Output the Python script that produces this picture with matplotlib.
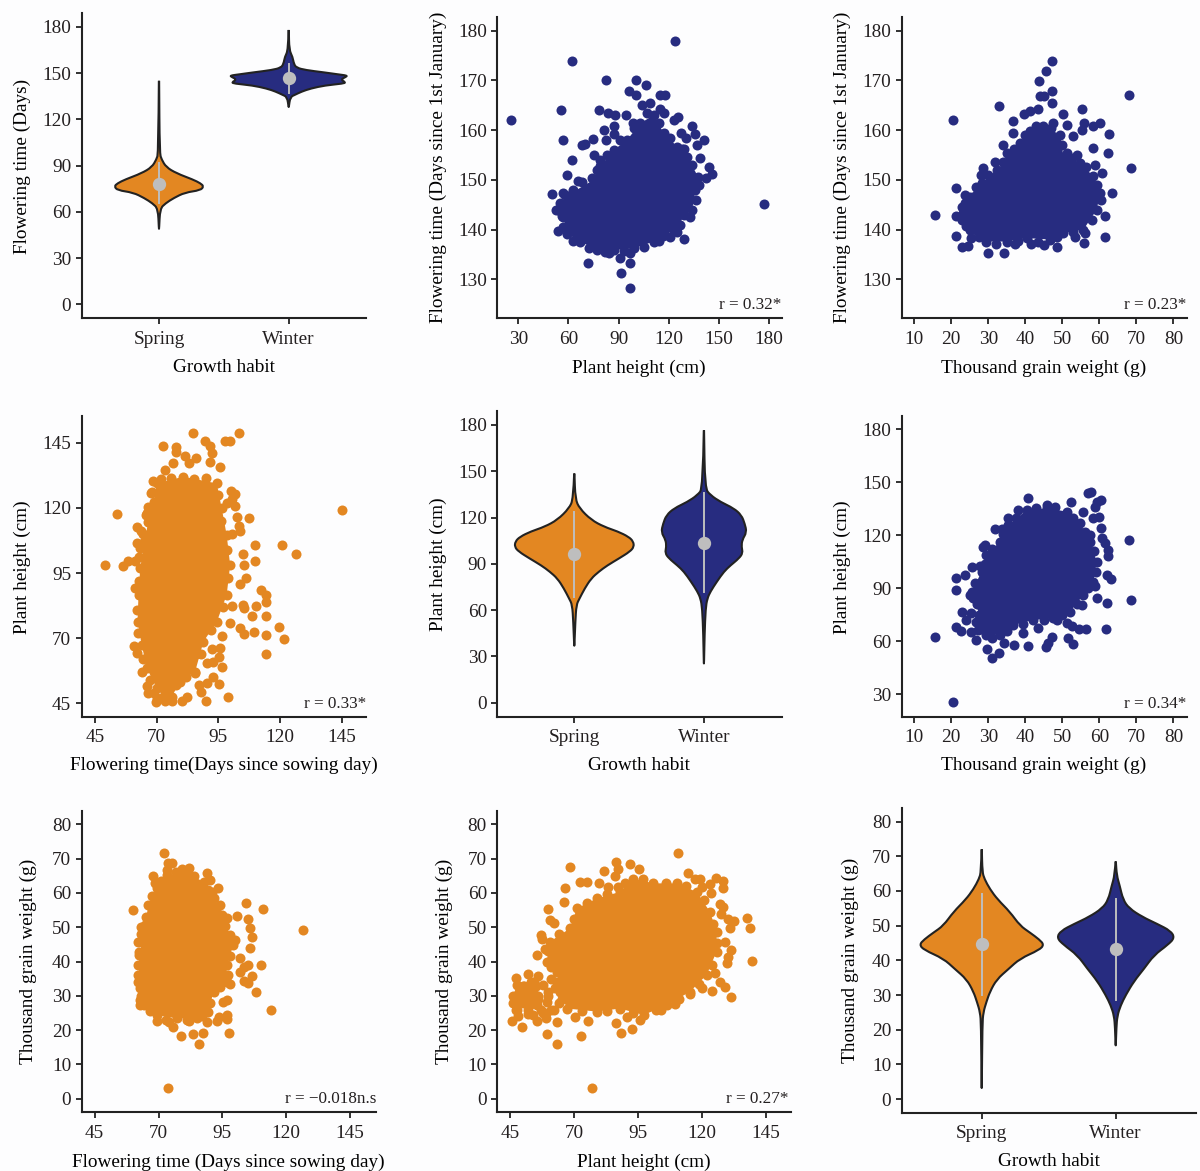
import matplotlib
matplotlib.use('Agg')
import matplotlib.pyplot as plt
from matplotlib.patches import PathPatch
from matplotlib.path import Path

plt.rcParams['font.family'] = ['Liberation Serif', 'DejaVu Serif']
plt.rcParams['text.color'] = '#231f20'

ORANGE = '#e38722'
NAVY = '#272c80'
DARK = '#222222'
GREY = '#bebebe'
BG = '#fdfdfe'
W, H = 1200, 1171

habits = ['Spring', 'Winter']

# violin outlines: value and half width (in category units)
ft_spring_y = [145, 98, 94, 89, 85, 81, 78.5, 76.5, 74, 72.5, 69, 65.5, 62, 49]
ft_spring_w = [.001, .005, .02, .055, .135, .26, .32, .345, .32, .2, .115, .05, .008, .001]
ft_winter_y = [178, 165, 160.5, 156, 153.5, 152, 150.5, 149.2, 148.4, 147.5, 145.8, 144, 143.2, 142, 140, 138, 136, 134.5, 128]
ft_winter_w = [.001, .004, .03, .04, .06, .13, .27, .38, .452, .44, .40, .44, .42, .28, .17, .1, .05, .012, .001]
ft_medians = [78.2, 146.7]
ft_low = [65.5, 136.8]
ft_high = [91.4, 156.2]

ph_spring_y = [148.5, 132, 126, 118.5, 114, 111, 107.5, 104.5, 101, 98, 93.5, 89, 85, 80.5, 74, 67.5, 63.5, 52.5, 37]
ph_spring_w = [.001, .008, .04, .13, .23, .335, .42, .455, .46, .43, .345, .255, .19, .13, .08, .04, .016, .008, .001]
ph_winter_y = [176.5, 139, 134.5, 130, 126, 121.5, 116, 110.5, 105.5, 101, 97, 93.5, 89, 85, 78.5, 72, 67.5, 61, 44, 25.5]
ph_winter_w = [.001, .008, .05, .13, .23, .29, .315, .33, .295, .29, .30, .27, .205, .155, .10, .05, .026, .013, .005, .001]
ph_medians = [96.1, 103.7]
ph_low = [68.7, 71.9]
ph_high = [123.8, 135.6]

tgw_spring_y = [72, 65.5, 63.5, 60.5, 57.5, 54, 50, 48, 46, 44.5, 43, 40.5, 37.5, 34.5, 31, 28, 25, 21.5, 3.2]
tgw_spring_w = [.001, .005, .02, .062, .12, .21, .286, .36, .43, .465, .43, .286, .2, .112, .062, .035, .012, .005, .001]
tgw_winter_y = [68.5, 64.5, 61.5, 57.5, 55, 52.5, 50.5, 48.5, 46.5, 44.5, 41.5, 37.5, 34, 30, 27, 24, 20.5, 15.5]
tgw_winter_w = [.001, .008, .03, .055, .1, .2, .31, .41, .44, .39, .286, .21, .137, .075, .037, .012, .005, .001]
tgw_medians = [44.6, 43.2]
tgw_low = [30.1, 28.5]
tgw_high = [59.2, 57.7]

# scatter panels: core_* traces the solid dense cloud, edge_* the dots on its rim,
# pts_* are the separate dots
# plant height vs flowering time, winter
a_core_x = [55, 63, 75, 79, 87, 95, 103, 111, 117, 125, 131, 137.6, 136, 134, 129, 125, 117, 111, 99, 87, 77, 67, 59, 57]
a_core_y = [145.3, 147.6, 150, 152.7, 156, 158, 161.4, 163, 159.4, 156.7, 154.7, 150.6, 148, 144, 143, 139.6, 139.2, 137.6, 136.2, 135.9, 135.9, 137.6, 139.2, 142.6]
a_edge_x = [58, 68, 77, 83, 91, 99, 107, 114, 121, 128, 134, 138, 136.5, 133, 127, 121, 114, 105, 93, 82, 72, 63, 56.5, 54]
a_edge_y = [147, 149.5, 152, 155, 158, 160.5, 163.5, 161.5, 158.5, 156.2, 153, 149, 146, 142.5, 141, 138.5, 137.8, 136.6, 135.7, 135.5, 136.2, 137.8, 140.5, 144]
a_pts_x = [25.4, 62.4, 123.6, 176.8, 82.6, 100.4, 106.6, 96, 100.6, 115, 117.6, 55.4, 78, 83.6, 87.8, 94.6, 98.4, 87.4, 81.4, 87.4, 82.6, 56.6, 74.4, 68, 70, 62.4, 59, 65.4, 50.4, 57, 52.4, 56, 53.6, 71.4, 84, 90.6, 96.6, 96.6, 91.6, 96.6, 129, 116.6, 123, 134, 135.8, 141, 137, 129, 139, 144, 146, 142, 125.8, 123.4, 115, 117, 104, 108.6, 127.6, 130.6, 75, 79, 74.2, 63]
a_pts_y = [162, 174, 178, 145.2, 170, 170, 169, 167.8, 167, 167, 167, 164, 164, 163.4, 163, 163, 161.4, 160.8, 160, 159.2, 158, 158, 158.2, 157, 157.2, 154, 151, 149.7, 147.2, 147.3, 144, 142.8, 139.7, 133.3, 135.2, 134.2, 135.2, 133.2, 131.2, 128.2, 138.2, 138.8, 140, 160.8, 159.2, 158, 157, 156.3, 154.4, 152.6, 151.2, 150.3, 162.6, 162, 164.3, 163.4, 165, 165.5, 159.4, 158.4, 155, 154, 150.4, 148]

# thousand grain weight vs flowering time, winter
b_core_x = [23.2, 23.7, 26.4, 28.2, 32.3, 35.9, 38.6, 41.3, 44.9, 49.4, 50.3, 54.8, 58.4, 60.2, 59.3, 55.7, 50.3, 46.7, 40.4, 35, 29.5, 26.8, 24.1]
b_core_y = [143.3, 145.3, 146.7, 149.4, 152, 154.7, 157.4, 159.8, 160.8, 159.1, 154.7, 153.4, 150.7, 147.4, 144, 140, 139.3, 138, 138.3, 137.6, 137.6, 140, 140.7]
b_edge_x = [23, 25, 27, 30, 34, 37, 40, 43, 47, 50, 52.5, 56.5, 59.5, 60.5, 58, 53, 48.5, 43.5, 38, 32, 27.5, 25, 23]
b_edge_y = [144.5, 146.6, 148.3, 151, 153.6, 156.2, 159, 160.8, 160.5, 157, 154.5, 152.5, 149, 146, 142, 139.5, 138.5, 137.6, 137.7, 137.2, 138.5, 140, 142]
b_pts_x = [15.6, 20.4, 21.2, 21.3, 23, 24.4, 23.8, 26.8, 30, 34.2, 33, 47.3, 45.7, 43.6, 47.3, 44.1, 45, 47.3, 68.1, 68.5, 55.2, 50.3, 43.5, 41.3, 39.6, 36.8, 60.2, 58.4, 55.9, 55.2, 62.5, 58.2, 62.4, 34, 35.1, 31.8, 28.6, 28, 63.3, 61.5, 61.5, 56.1, 55.9, 53.4, 48.6, 45, 41.4, 37.2, 25.2, 21.4, 58.8, 60.6, 53.9, 51.2, 53, 36.8, 47.5, 51.2]
b_pts_y = [142.9, 162, 148.4, 138.8, 136.4, 136.8, 147, 148.6, 135.2, 135.3, 164.9, 174, 171.9, 169.9, 167.9, 166.8, 166.9, 165.5, 167.1, 152.3, 164.2, 163.3, 164.2, 163.8, 163.3, 161.8, 161.4, 160.8, 161.4, 160, 159.2, 156.4, 155.4, 157.1, 155.4, 153.6, 152.4, 151, 147.4, 142.7, 138.6, 139.3, 137.3, 138.6, 136.6, 137, 137.1, 137.2, 138.3, 142.8, 153, 151.4, 155, 155.4, 158.8, 159.4, 161.4, 161.1]

# flowering time vs plant height, spring
c_core_x = [62.7, 63.4, 65, 66.7, 68.8, 70.1, 80.9, 94.4, 96.4, 98.4, 99.8, 98.4, 94.4, 89, 85.6, 79.5, 76.2, 72.8, 70.1, 66.1, 64, 62.3]
c_core_y = [86.6, 96.8, 107, 114.7, 122.4, 129.4, 132, 129.4, 119.8, 109.6, 98.1, 86.6, 76.3, 68.7, 57.1, 53.3, 47.6, 47.6, 50.8, 58.4, 67.4, 76.3]
c_edge_x = [63, 63, 64.5, 66, 68, 72, 76, 85, 90, 95, 96, 98.5, 99, 97, 92, 88, 82, 78, 74, 70, 67.5, 64.5, 62.5, 62, 86, 84, 82]
c_edge_y = [92, 101, 110, 118, 126, 131, 131.5, 131, 131.5, 125, 115, 104, 93, 82, 73, 64, 60, 52, 46.5, 47, 54, 62, 72, 81, 64, 62, 55]
c_pts_x = [49, 53.9, 56.3, 58.6, 61.3, 62.1, 63.8, 62.1, 63.4, 61.1, 65.6, 66.7, 68.5, 67.7, 72.7, 77.9, 77.8, 76.8, 73.5, 81.7, 83, 86, 84.7, 89.8, 91.7, 92.6, 91.7, 95.5, 97.6, 99.9, 103.3, 100.2, 101.8, 100.5, 98.7, 101.8, 102.5, 107.6, 103.2, 103.6, 100.7, 109.9, 120.8, 126.5, 144.9, 105.2, 105.6, 109.9, 106.4, 103.8, 112.3, 114.4, 114.4, 105.2, 105.6, 110.3, 100.7, 108.8, 114.2, 119.4, 103.8, 105.6, 109.5, 114.2, 121.4, 114.2, 96.7, 99.8, 95.7, 92.4, 95.3, 96.4, 92.8, 90.6, 95.1, 99, 89.9, 87.2, 88, 82.2, 80.2, 69.7, 73.5, 76.2, 66.7, 66.1, 68.8, 60.7, 62, 64, 93, 90.3, 85.6]
c_pts_y = [98.2, 117.5, 97.6, 99.7, 99.7, 112.8, 111.2, 106.4, 104.5, 89.2, 117.2, 120.4, 130.4, 125.6, 143.6, 143.5, 141.5, 137.1, 134.5, 139.9, 137.3, 139, 148.6, 145.8, 143.7, 140.9, 137.7, 135.8, 145.8, 145.8, 148.6, 126.5, 125.3, 123.6, 121.7, 120.8, 116.6, 116.2, 113.2, 111.1, 109.8, 105.9, 105.9, 102.3, 119.2, 102.2, 98.1, 99.5, 93.2, 90.7, 88.5, 86.6, 83.7, 82.7, 81.4, 82.3, 82.3, 78.5, 78.5, 74.4, 73.8, 71.6, 72.5, 71.2, 69.8, 63.9, 70.8, 75.7, 66.1, 65.8, 62.9, 59.1, 55.2, 52.7, 52.4, 47.3, 45.9, 52, 49.5, 47.5, 46, 45.4, 46, 46, 48.8, 51.8, 48.8, 67.1, 64.2, 57.1, 61, 60.3, 56.5]

# thousand grain weight vs plant height, winter
d_core_x = [25.5, 28.2, 29.5, 33.2, 35.4, 40.4, 45.8, 51.2, 54.8, 57.5, 59.3, 58.4, 55.7, 52.1, 47.6, 42.2, 36.8, 33.2, 29.5, 26.8, 28.2, 25.9]
d_core_y = [88.1, 99.4, 108.9, 116.4, 125.8, 134.3, 135.3, 133.4, 126.8, 116.4, 105.1, 93.8, 86.2, 76.8, 73, 72.1, 69.2, 63.6, 63.6, 71.1, 78.7, 84.3]
d_edge_x = [26.5, 29, 31, 34, 37.5, 43, 48, 53, 56, 58.5, 59, 57, 54, 50, 45, 39.5, 35, 31, 28, 27.5, 27, 25]
d_edge_y = [93, 104, 112, 121, 130, 135.5, 136, 130, 122, 111, 99, 90, 81, 75, 72, 70, 66, 62, 67, 75, 81, 86]
d_pts_x = [20.4, 15.6, 21.2, 21.2, 23.7, 21.4, 22.5, 23, 24, 25.2, 25.2, 26.8, 25.5, 27.7, 28.5, 29.2, 31.8, 33.6, 35.4, 38.1, 40.6, 45.8, 52.3, 55.7, 56.8, 57.7, 60.4, 59.3, 58.8, 58.4, 60, 60.4, 57.5, 60.6, 61.5, 62.4, 62.4, 68.1, 63.1, 62, 58.8, 59.3, 68.5, 62.2, 61.7, 56.4, 54.6, 52.5, 51.6, 53, 47.1, 46.2, 45.5, 40.6, 39.3, 36.9, 34.2, 33, 31.1, 29.7, 27.3, 48.5, 43.5, 55.2, 51.2]
d_pts_y = [25.5, 62.5, 95.8, 89.1, 97.5, 67.9, 65.8, 76.8, 72.1, 75.8, 65.1, 60.8, 102.3, 102.8, 113.6, 114.5, 123.6, 123.6, 129.6, 134.3, 140.9, 137.2, 138.7, 133.4, 143.8, 144.7, 140.2, 138.7, 136.2, 129.6, 130.2, 124, 120.2, 118.3, 115.5, 111.7, 108.5, 117.2, 95.1, 97.5, 91.5, 84.3, 83.6, 81.9, 66.8, 67, 67, 68.7, 61.9, 58.5, 62.3, 58.9, 56.6, 57.4, 64.9, 57.9, 58.9, 53.2, 50.4, 55.7, 66.4, 72.1, 67.4, 80.6, 70.2]

# flowering time vs thousand grain weight, spring
e_core_x = [62.1, 63.4, 64.7, 66, 69.3, 73.2, 81, 87.6, 91.5, 94.7, 98, 99.3, 96.7, 96.7, 91.5, 89.5, 85, 77.1, 69.3, 64.1, 62.8]
e_core_y = [39, 45.8, 50.6, 56.5, 61.3, 65.2, 65.7, 63.3, 58.4, 53.5, 47.7, 44.8, 39, 34.1, 31.2, 25.4, 23.4, 23.4, 24.4, 27.3, 32.2]
e_edge_x = [62.5, 63, 65, 67.5, 71, 77, 84, 89.5, 93, 96, 99, 98, 97, 94, 90, 87, 81, 73, 66.5, 63, 62]
e_edge_y = [42, 48, 53, 59, 63.5, 66, 65, 61, 56, 50.5, 46, 41.5, 36, 32.5, 28, 24, 23, 23, 25.5, 30, 36]
e_pts_x = [59.8, 73.6, 72.2, 73.6, 75.4, 73.2, 79.3, 82.1, 88.9, 90.2, 67.7, 68.6, 93.4, 90.8, 104.1, 110.7, 94.1, 100.6, 96.7, 104.9, 105.6, 126.7, 106.6, 100, 105.6, 101.7, 110.1, 104.9, 103.5, 101.7, 106.5, 103.6, 104.9, 108.2, 114.1, 98, 96.7, 95.1, 96.7, 96.7, 93.7, 92.8, 97.6, 88.9, 87.3, 83.6, 86, 78.7, 75.8, 73.9, 81.9, 69.3, 62.1, 62.5, 62.1, 63, 62.8, 62.8]
e_pts_y = [55, 3.2, 71.7, 68.6, 68.6, 66.7, 67, 67.4, 65.7, 63.9, 65, 62.8, 61.3, 60.3, 57.1, 55.4, 56.5, 53.2, 52.6, 52.4, 49.7, 49.3, 47.1, 46.3, 44, 41.1, 39, 39, 38.5, 37, 35.9, 34.3, 33.6, 31, 25.9, 33.5, 28.8, 28.3, 24.4, 23.2, 23.9, 22.6, 19.3, 22.4, 19.2, 19, 15.9, 18.4, 20.8, 22.4, 22.6, 22.8, 34.1, 42.9, 45.8, 50.1, 27.3, 28.8]

# plant height vs thousand grain weight, spring
f_core_x = [59.3, 60.6, 68.5, 71.1, 78.9, 88, 93.2, 101.1, 110.2, 118, 123.2, 125.8, 125.8, 121.9, 115.4, 106.3, 97.2, 88, 78.9, 67.2, 64.6, 63.3]
f_core_y = [39.9, 45.8, 49.7, 55.5, 58.4, 60.3, 64.2, 62.8, 62.8, 60.3, 54.5, 48.7, 42.9, 36.1, 31.2, 27.3, 24.4, 26.3, 25.4, 26.3, 31.2, 37]
f_edge_x = [60, 64, 70, 75, 83, 90, 97, 106, 114, 121, 124.5, 126, 124, 119, 111, 102, 93, 83, 73, 65.5, 63.5, 61, 46, 48, 50, 53, 55, 52, 48, 56, 59, 60, 62, 64, 51, 54, 47]
f_edge_y = [43, 48, 52.5, 57, 59.8, 63, 64, 63, 62, 58, 51, 45.5, 39, 33.5, 29, 26, 25, 25.5, 25.5, 29, 34, 38.5, 30, 29, 33, 34, 33, 26, 24, 29, 25, 30, 26, 28, 29.5, 29, 28]
f_pts_x = [77.2, 63.3, 59.3, 72.6, 49.6, 45.7, 55.4, 75.6, 86.5, 88.4, 92.8, 110.6, 68.6, 81.8, 86.5, 87.4, 86.1, 91.9, 95.6, 66.3, 65.9, 60, 60.6, 62, 57, 57.4, 55.4, 58.7, 72.4, 75, 79.6, 83.5, 87.4, 114.8, 117.4, 119.3, 125.4, 128.2, 128.2, 123.2, 120, 123.5, 127.1, 128.4, 127.4, 130.4, 132.7, 137.8, 138.9, 139.8, 131, 129.1, 131.4, 130.4, 130, 125.2, 127.1, 129.1, 131.3, 123.9, 120, 115.4, 109.5, 104, 95.8, 90.9, 70.4, 63.3, 58.9, 52.2, 46.3, 47.6, 47.2, 51.9, 47.9, 56.1, 58, 49.6, 54.1, 51.5, 55.4, 49.6, 54.1, 59.3, 62.6, 65.9, 52, 50, 53, 56, 57, 48.5, 60, 61, 47.5, 50.5, 54.5, 58, 61]
f_pts_y = [3.2, 15.9, 19, 18.4, 21, 22.6, 22.6, 22.6, 22, 19.1, 20.2, 71.7, 67.7, 66.4, 68.9, 67, 65, 68.4, 66.9, 61.3, 57.4, 55.4, 52.1, 51.3, 47.7, 46.5, 41.9, 43.8, 63.3, 63.1, 62.8, 61.8, 61.8, 65.7, 64.2, 64, 64.5, 63.5, 61.5, 62.6, 61.8, 59.9, 56.9, 55.8, 54, 52.3, 51.8, 52.6, 49.8, 40.2, 49.7, 45.8, 43.3, 41.4, 39.7, 36.8, 33.9, 32.7, 29.8, 31.5, 32.2, 30.4, 27.5, 26, 22.9, 23.7, 23.7, 22.4, 23.4, 24.6, 27.8, 25.9, 35.3, 36.5, 33.1, 35.9, 33.1, 29.3, 31.2, 32.7, 27.3, 31.2, 24.4, 28.3, 32.2, 33.6, 30, 28, 27.5, 30, 26, 31, 31, 26, 26, 33, 34, 25, 35]


def add_panel(fig, left, right, top, bottom, xlim, ylim, xticks, yticks):
    ax = fig.add_axes([left / W, 1 - bottom / H, (right - left) / W, (bottom - top) / H])
    ax.set_facecolor('none')
    ax.set_xlim(xlim)
    ax.set_ylim(ylim)
    ax.set_xticks(xticks)
    ax.set_yticks(yticks)
    ax.spines['top'].set_visible(False)
    ax.spines['right'].set_visible(False)
    for side in ['left', 'bottom']:
        ax.spines[side].set_linewidth(1.5)
        ax.spines[side].set_color(DARK)
    ax.tick_params(axis='x', length=4, width=1.3, color=DARK, labelsize=13.9, pad=5, labelcolor='#231f20')
    ax.tick_params(axis='y', length=4, width=1.3, color=DARK, labelsize=13.9, pad=3.5, labelcolor='#231f20')
    return ax


def set_labels(fig, ax, xlabel, ylabel, xpos, ypos):
    ax.set_xlabel(xlabel, fontsize=13.9, va='center')
    ax.set_ylabel(ylabel, fontsize=13.9, va='center')
    ax.xaxis.set_label_coords(xpos[0] / W, 1 - (xpos[1] + 2) / H, transform=fig.transFigure)
    ax.yaxis.set_label_coords((ypos[0] + 2) / W, 1 - ypos[1] / H, transform=fig.transFigure)


def draw_scatter(ax, core_x, core_y, edge_x, edge_y, pts_x, pts_y, color):
    ax.fill(core_x, core_y, color=color, lw=0, zorder=2)
    ax.scatter(core_x + edge_x + pts_x, core_y + edge_y + pts_y, s=52, color=color, lw=0, zorder=3)


def violin_path(i, vy, vw):
    # go down the left side, back up the right side, rounding through the vertices
    xs = [i - w for w in vw] + [i + w for w in vw[::-1]]
    ys = list(vy) + list(vy[::-1])
    verts = [(xs[0], ys[0])]
    codes = [Path.MOVETO]
    for k in range(1, len(xs) - 1):
        verts.append((xs[k], ys[k]))
        verts.append(((xs[k] + xs[k + 1]) / 2, (ys[k] + ys[k + 1]) / 2))
        codes += [Path.CURVE3, Path.CURVE3]
    verts.append((xs[-1], ys[-1]))
    codes.append(Path.LINETO)
    return Path(verts, codes)


def draw_violins(ax, spring_y, spring_w, winter_y, winter_w, medians, low, high):
    for i, (vy, vw, color) in enumerate([(spring_y, spring_w, ORANGE), (winter_y, winter_w, NAVY)]):
        ax.add_patch(PathPatch(violin_path(i, vy, vw), facecolor=color, edgecolor=DARK, lw=1.5, joinstyle='round', zorder=2))
        ax.plot([i, i], [low[i], high[i]], color=GREY, lw=1.4, zorder=3)
        ax.scatter([i], [medians[i]], s=92, color=GREY, lw=0, zorder=4)
    ax.set_xticklabels(habits)


def r_note(fig, text, right, y):
    fig.text(right / W, 1 - y / H, text, fontsize=12.3, ha='right', va='center')


fig = plt.figure(figsize=(W / 100, H / 100), dpi=100, facecolor=BG)

# top row
ax = add_panel(fig, 81.7, 366, 13, 318, (-0.596, 1.596), (-8.9, 189), [0, 1], [0, 30, 60, 90, 120, 150, 180])
draw_violins(ax, ft_spring_y, ft_spring_w, ft_winter_y, ft_winter_w, ft_medians, ft_low, ft_high)
set_labels(fig, ax, 'Growth habit', 'Flowering time (Days)', (224, 366), (20, 166))

ax = add_panel(fig, 497.3, 781.7, 17.3, 318.3, (17.4, 187.6), (122.16, 182.7), [30, 60, 90, 120, 150, 180], [130, 140, 150, 160, 170, 180])
draw_scatter(ax, a_core_x, a_core_y, a_edge_x, a_edge_y, a_pts_x, a_pts_y, NAVY)
set_labels(fig, ax, 'Plant height (cm)', 'Flowering time (Days since 1st January)', (639, 366), (436, 167))
r_note(fig, 'r = 0.32*', 781.7, 305)

ax = add_panel(fig, 901.7, 1186.7, 17.3, 318.3, (6.6, 83.6), (122.16, 182.7), [10, 20, 30, 40, 50, 60, 70, 80], [130, 140, 150, 160, 170, 180])
draw_scatter(ax, b_core_x, b_core_y, b_edge_x, b_edge_y, b_pts_x, b_pts_y, NAVY)
set_labels(fig, ax, 'Thousand grain weight (g)', 'Flowering time (Days since 1st January)', (1044, 366), (840.7, 167))
r_note(fig, 'r = 0.23*', 1186.7, 305)

# middle row
ax = add_panel(fig, 81.7, 366, 415.7, 716.7, (39.7, 154.8), (39.86, 155.4), [45, 70, 95, 120, 145], [45, 70, 95, 120, 145])
draw_scatter(ax, c_core_x, c_core_y, c_edge_x, c_edge_y, c_pts_x, c_pts_y, ORANGE)
set_labels(fig, ax, 'Flowering time(Days since sowing day)', 'Plant height (cm)', (224, 763), (20, 566.7))
r_note(fig, 'r = 0.33*', 366.7, 704)

ax = add_panel(fig, 497.3, 781.7, 411, 716.7, (-0.594, 1.6), (-9, 189), [0, 1], [0, 30, 60, 90, 120, 150, 180])
draw_violins(ax, ph_spring_y, ph_spring_w, ph_winter_y, ph_winter_w, ph_medians, ph_low, ph_high)
set_labels(fig, ax, 'Growth habit', 'Plant height (cm)', (639.5, 763), (436, 563.8))

ax = add_panel(fig, 901.7, 1186.7, 415.7, 716.7, (6.6, 83.6), (17.3, 187.7), [10, 20, 30, 40, 50, 60, 70, 80], [30, 60, 90, 120, 150, 180])
draw_scatter(ax, d_core_x, d_core_y, d_edge_x, d_edge_y, d_pts_x, d_pts_y, NAVY)
set_labels(fig, ax, 'Thousand grain weight (g)', 'Plant height (cm)', (1044, 763), (840.7, 566.7))
r_note(fig, 'r = 0.34*', 1186.7, 704)

# bottom row
ax = add_panel(fig, 81.7, 375.7, 811, 1112.3, (39.9, 155), (-3.97, 83.9), [45, 70, 95, 120, 145], [0, 10, 20, 30, 40, 50, 60, 70, 80])
draw_scatter(ax, e_core_x, e_core_y, e_edge_x, e_edge_y, e_pts_x, e_pts_y, ORANGE)
set_labels(fig, ax, 'Flowering time (Days since sowing day)', 'Thousand grain weight (g)', (228.7, 1160), (26, 961))
r_note(fig, 'r = \u22120.018n.s', 376, 1099)

ax = add_panel(fig, 497.3, 791, 811, 1112.3, (40, 154.9), (-3.97, 83.9), [45, 70, 95, 120, 145], [0, 10, 20, 30, 40, 50, 60, 70, 80])
draw_scatter(ax, f_core_x, f_core_y, f_edge_x, f_edge_y, f_pts_x, f_pts_y, ORANGE)
set_labels(fig, ax, 'Plant height (cm)', 'Thousand grain weight (g)', (644, 1160), (442.7, 961))
r_note(fig, 'r = 0.27*', 789, 1099)

ax = add_panel(fig, 901.7, 1195.7, 807.7, 1113, (-0.597, 1.597), (-4, 84), [0, 1], [0, 10, 20, 30, 40, 50, 60, 70, 80])
draw_violins(ax, tgw_spring_y, tgw_spring_w, tgw_winter_y, tgw_winter_w, tgw_medians, tgw_low, tgw_high)
set_labels(fig, ax, 'Growth habit', 'Thousand grain weight (g)', (1048.5, 1160), (848.3, 960.5))

fig.savefig('out.png', dpi=100, facecolor=BG)
